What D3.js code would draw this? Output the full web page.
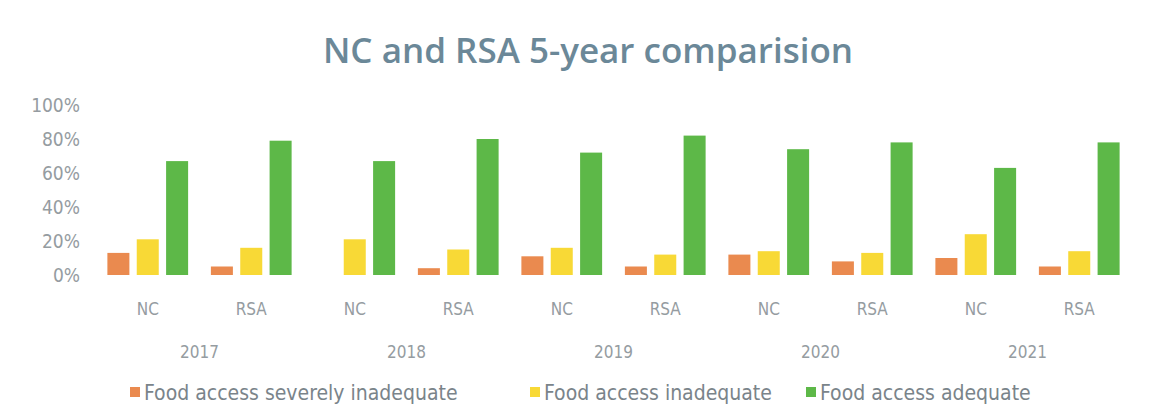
<!DOCTYPE html>
<html>
<head>
<meta charset="utf-8">
<script src="https://cdn.jsdelivr.net/npm/d3@7"></script>
<style>
  body { margin: 0; background: #fff; }
  text { font-family: "DejaVu Sans Condensed", "Open Sans", sans-serif; }
</style>
</head>
<body>
<div id="chart"></div>
<script>
// Chart data
var years = ["2017", "2018", "2019", "2020", "2021"];
var regions = ["NC", "RSA"];
var seriesNames = ["Food access severely inadequate", "Food access inadequate", "Food access adequate"];
var severelyInadequate = [0.13, 0.05, 0.00, 0.04, 0.11, 0.05, 0.12, 0.08, 0.10, 0.05];
var inadequate = [0.21, 0.16, 0.21, 0.15, 0.16, 0.12, 0.14, 0.13, 0.24, 0.14];
var adequate = [0.67, 0.79, 0.67, 0.80, 0.72, 0.82, 0.74, 0.78, 0.63, 0.78];
var yTicks = [0, 0.2, 0.4, 0.6, 0.8, 1.0];
var colors = ["#ea8a4f", "#f8d936", "#5db848"];

// Set svg dimensions
var svgWidth = 1166;
var svgHeight = 416;

var chartMargin = { top: 105, right: 35, bottom: 141, left: 96 };
var chartWidth = svgWidth - (chartMargin.left + chartMargin.right);
var chartHeight = svgHeight - (chartMargin.top + chartMargin.bottom);

var svg = d3.select("#chart")
    .append("svg")
    .attr("width", svgWidth)
    .attr("height", svgHeight);

// Title
svg.append("text")
    .attr("x", 588)
    .attr("y", 63)
    .attr("text-anchor", "middle")
    .style("font-family", "'Open Sans', sans-serif")
    .style("font-size", "35px")
    .style("font-weight", "600")
    .style("fill", "#6b8898")
    .text("NC and RSA 5-year comparision");

var chartGroup = svg.append("g")
    .attr("transform", `translate(${chartMargin.left},${chartMargin.top})`);

// Build category rows
var data = [];
years.forEach(function(y, i) {
    regions.forEach(function(r, j) {
        var k = i * regions.length + j;
        data.push({
            key: y + "-" + r,
            year: y,
            region: r,
            values: [severelyInadequate[k], inadequate[k], adequate[k]]
        });
    });
});

// Scales
var xScale = d3.scaleBand()
    .domain(data.map(d => d.key))
    .range([0, chartWidth])
    .paddingInner(0.22)
    .paddingOuter(0.11);

var xInner = d3.scaleBand()
    .domain(d3.range(seriesNames.length))
    .range([0, xScale.bandwidth()])
    .paddingInner(0.25);

var yScale = d3.scaleLinear()
    .domain([0, 1])
    .range([chartHeight, 0]);

// Y axis
var yAxis = d3.axisLeft(yScale)
    .tickValues(yTicks)
    .tickFormat(d3.format(".0%"))
    .tickSize(0)
    .tickPadding(16);

var yAxisGroup = chartGroup.append("g").call(yAxis);
yAxisGroup.select(".domain").remove();
yAxisGroup.selectAll("text")
    .style("font-family", "'DejaVu Sans Condensed', sans-serif")
    .style("font-size", "19px")
    .style("fill", "#959ca1");

// Bars
var groups = chartGroup.selectAll(".cat")
    .data(data)
    .enter()
    .append("g")
    .attr("class", "cat")
    .attr("transform", d => `translate(${xScale(d.key)},0)`);

groups.selectAll("rect")
    .data(d => d.values.map((v, i) => ({ v: v, i: i })))
    .enter()
    .append("rect")
    .attr("x", d => xInner(d.i))
    .attr("y", d => yScale(d.v))
    .attr("width", xInner.bandwidth())
    .attr("height", d => chartHeight - yScale(d.v))
    .attr("fill", d => colors[d.i]);

// Region labels
chartGroup.selectAll(".region")
    .data(data)
    .enter()
    .append("text")
    .attr("class", "region")
    .attr("x", d => xScale(d.key) + xScale.bandwidth() / 2)
    .attr("y", chartHeight + 40)
    .attr("text-anchor", "middle")
    .style("font-size", "17px")
    .style("fill", "#959ca1")
    .text(d => d.region);

// Year labels
chartGroup.selectAll(".year")
    .data(years)
    .enter()
    .append("text")
    .attr("class", "year")
    .attr("x", function(y) {
        var a = xScale(y + "-" + regions[0]);
        var b = xScale(y + "-" + regions[regions.length - 1]) + xScale.bandwidth();
        return (a + b) / 2;
    })
    .attr("y", chartHeight + 83)
    .attr("text-anchor", "middle")
    .style("font-size", "17px")
    .style("fill", "#959ca1")
    .text(y => y);

// Legend
var legendX = [130, 530, 806];
var legend = svg.selectAll(".legend")
    .data(seriesNames)
    .enter()
    .append("g")
    .attr("class", "legend")
    .attr("transform", (d, i) => `translate(${legendX[i]},400)`);

legend.append("rect")
    .attr("x", 0)
    .attr("y", -13)
    .attr("width", 10)
    .attr("height", 10)
    .attr("fill", (d, i) => colors[i]);

legend.append("text")
    .attr("x", 14)
    .attr("y", 0)
    .style("font-size", "21px")
    .style("fill", "#7a848a")
    .text(d => d);
</script>
</body>
</html>
